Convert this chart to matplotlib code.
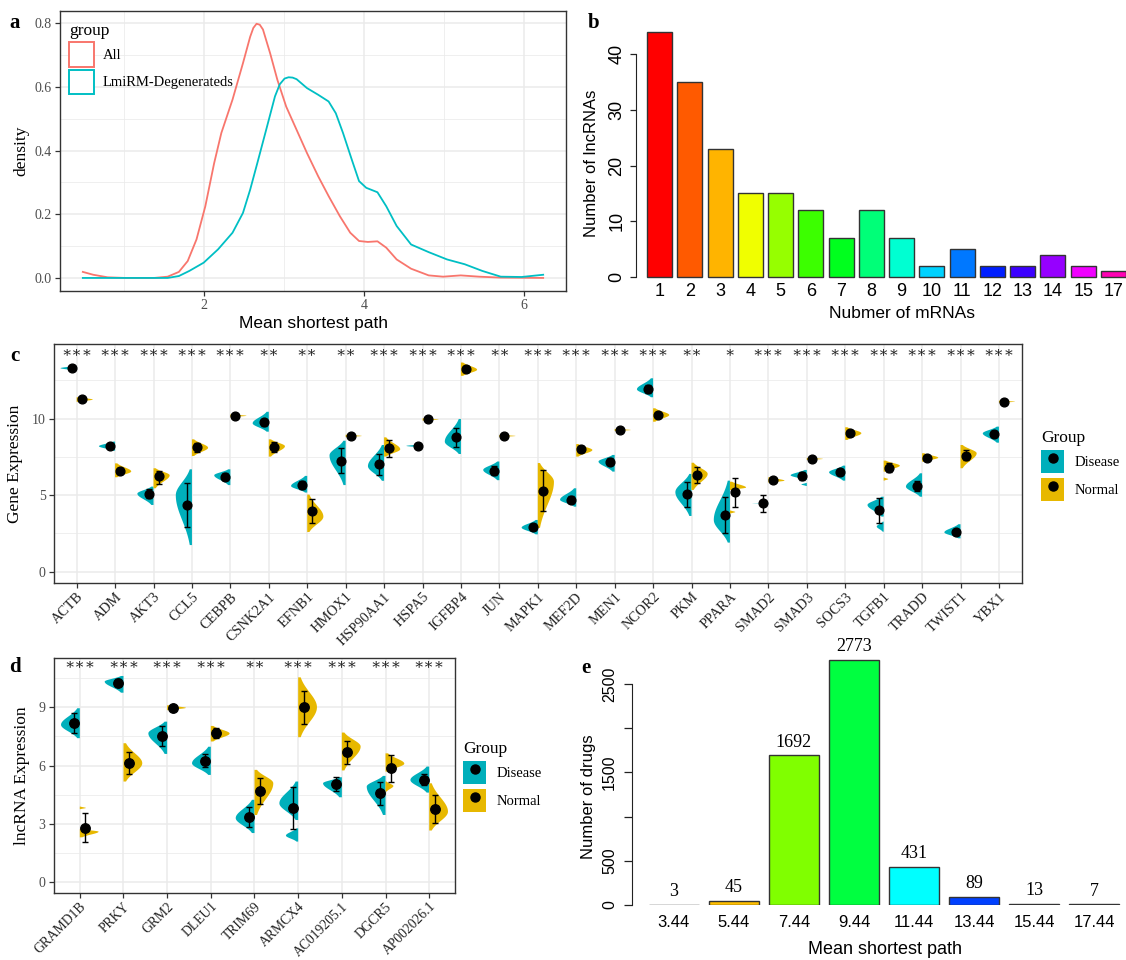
import numpy as np
import matplotlib
matplotlib.use("Agg")
import matplotlib.pyplot as plt
from matplotlib.patches import Patch
from matplotlib.lines import Line2D
from matplotlib.legend_handler import HandlerTuple

plt.rcParams['font.family'] = ['Liberation Serif', 'DejaVu Serif']
SANS = 'Liberation Sans'

# ---------------- panel a: density curves ----------------
all_x = [0.49, 0.62, 0.80, 1.02, 1.38, 1.55, 1.69, 1.80, 1.91, 2.02, 2.13, 2.22, 2.36, 2.49, 2.58, 2.62,
         2.66, 2.70, 2.74, 2.83, 2.92, 3.03, 3.16, 3.29, 3.43, 3.56, 3.70, 3.83, 3.94, 4.05, 4.17, 4.28,
         4.41, 4.59, 4.81, 4.99, 5.21, 5.44, 5.71, 6.24]
all_y = [0.019, 0.010, 0.002, 0.0, 0.0, 0.004, 0.019, 0.053, 0.121, 0.225, 0.360, 0.455, 0.560, 0.674, 0.757, 0.785,
         0.798, 0.795, 0.780, 0.705, 0.622, 0.538, 0.465, 0.392, 0.319, 0.257, 0.194, 0.142, 0.116, 0.113, 0.115, 0.095,
         0.058, 0.029, 0.008, 0.004, 0.008, 0.004, 0.001, 0.0]
deg_x = [0.49, 1.55, 1.69, 1.82, 2.00, 2.18, 2.36, 2.49, 2.58, 2.67, 2.78, 2.89, 2.95, 3.01, 3.06, 3.11, 3.16,
         3.29, 3.43, 3.56, 3.65, 3.74, 3.85, 3.94, 4.03, 4.17, 4.28, 4.41, 4.59, 4.81, 5.04, 5.26,
         5.48, 5.71, 5.97, 6.24]
deg_y = [0.0, 0.0, 0.006, 0.022, 0.048, 0.090, 0.142, 0.204, 0.277, 0.361, 0.465, 0.570, 0.608, 0.626, 0.630, 0.629, 0.624,
         0.596, 0.575, 0.554, 0.517, 0.455, 0.371, 0.304, 0.283, 0.269, 0.225, 0.163, 0.105, 0.081, 0.058, 0.043,
         0.022, 0.004, 0.003, 0.010]
a_groups = ["All", "LmiRM-Degenerateds"]

# ---------------- panel b ----------------
b_labels = ["1", "2", "3", "4", "5", "6", "7", "8", "9", "10", "11", "12", "13", "14", "15", "17"]
b_counts = [44, 35, 23, 15, 15, 12, 7, 12, 7, 2, 5, 2, 2, 4, 2, 1]
b_colors = ["#FF0000", "#FF5A00", "#FFB400", "#F0FF00", "#96FF00", "#3CFF00", "#00FF1E", "#00FF78",
            "#00FFD2", "#00D2FF", "#0078FF", "#001EFF", "#3C00FF", "#9600FF", "#F000FF", "#FF00B4"]

# ---------------- panel c ----------------
c_genes = ["ACTB", "ADM", "AKT3", "CCL5", "CEBPB", "CSNK2A1", "EFNB1", "HMOX1", "HSP90AA1", "HSPA5",
           "IGFBP4", "JUN", "MAPK1", "MEF2D", "MEN1", "NCOR2", "PKM", "PPARA", "SMAD2", "SMAD3",
           "SOCS3", "TGFB1", "TRADD", "TWIST1", "YBX1"]
c_sig = ["***", "***", "***", "***", "***", "**", "**", "**", "***", "***", "***", "**", "***", "***",
         "***", "***", "**", "*", "***", "***", "***", "***", "***", "***", "***"]
# Disease: violin low / peak / high, mean, error low / high
c_dis_lo = [13.15, 7.91, 4.36, 1.74, 5.66, 9.15, 5.17, 5.66, 5.94, 8.12, 7.69, 5.98, 2.44, 4.25, 6.54, 11.40, 3.64, 1.90, 4.45, 6.00, 5.95, 3.60, 4.90, 2.18, 8.43]
c_dis_pk = [13.30, 8.20, 5.10, 5.00, 6.30, 9.70, 5.60, 7.60, 6.90, 8.22, 8.50, 6.65, 2.88, 4.70, 7.20, 11.92, 5.20, 3.38, 4.47, 6.30, 6.50, 4.36, 5.56, 2.57, 9.04]
c_dis_hi = [13.45, 8.50, 5.56, 6.69, 6.69, 10.45, 6.26, 8.56, 8.28, 8.32, 9.98, 7.20, 3.38, 5.45, 7.63, 12.64, 6.39, 5.95, 4.49, 6.65, 6.93, 4.90, 6.43, 3.10, 9.48]
c_dis_mean = [13.29, 8.24, 5.08, 4.38, 6.21, 9.78, 5.65, 7.26, 7.04, 8.22, 8.78, 6.61, 2.94, 4.69, 7.19, 11.94, 5.08, 3.71, 4.47, 6.25, 6.49, 4.03, 5.60, 2.61, 8.98]
c_dis_elo = [13.22, 8.15, 4.80, 2.95, 6.00, 9.50, 5.40, 6.43, 6.32, 8.18, 8.17, 6.35, 2.75, 4.50, 6.95, 11.70, 4.25, 2.50, 3.92, 6.00, 6.30, 3.20, 5.30, 2.45, 8.80]
c_dis_ehi = [13.36, 8.32, 5.40, 5.82, 6.45, 10.00, 5.90, 8.07, 7.69, 8.26, 9.40, 6.90, 3.10, 4.95, 7.40, 12.20, 5.88, 4.90, 5.01, 6.50, 6.70, 4.80, 5.90, 2.75, 9.20]
# Normal
c_nor_lo = [11.10, 6.17, 5.45, 7.56, 10.10, 7.52, 2.59, 8.80, 7.52, 9.88, 12.80, 8.80, 2.86, 7.52, 9.19, 9.80, 5.34, 5.34, 5.82, 7.30, 8.61, 6.54, 7.19, 6.76, 11.04]
c_nor_pk = [11.25, 6.55, 6.30, 8.10, 10.19, 8.20, 3.60, 8.87, 8.00, 9.95, 13.20, 8.87, 5.88, 7.95, 9.26, 10.24, 6.39, 5.50, 5.95, 7.37, 9.05, 6.93, 7.45, 7.74, 11.11]
c_nor_hi = [11.40, 7.08, 6.76, 8.65, 10.28, 8.65, 5.04, 8.95, 8.78, 10.02, 13.67, 8.94, 7.10, 8.34, 9.33, 10.68, 7.12, 5.88, 6.17, 7.44, 9.44, 7.26, 7.74, 8.28, 11.18]
c_nor_mean = [11.29, 6.58, 6.26, 8.13, 10.19, 8.17, 3.99, 8.87, 8.06, 9.95, 13.25, 8.87, 5.29, 8.00, 9.26, 10.24, 6.32, 5.19, 5.99, 7.37, 9.04, 6.76, 7.45, 7.58, 11.11]
c_nor_elo = [11.25, 6.40, 5.70, 7.80, 10.15, 7.80, 3.20, 8.83, 7.52, 9.91, 13.05, 8.83, 3.99, 7.80, 9.22, 10.10, 5.78, 4.25, 5.95, 7.33, 8.85, 6.50, 7.35, 7.30, 11.07]
c_nor_ehi = [11.33, 6.80, 6.60, 8.40, 10.23, 8.50, 4.72, 8.91, 8.61, 9.99, 13.45, 8.91, 6.65, 8.20, 9.30, 10.40, 6.86, 6.10, 6.03, 7.41, 9.20, 7.10, 7.55, 7.95, 11.15]
# small detached density pieces: (gene, group, low, peak, high, half-width)
c_blobs = [("PPARA", "Normal", 3.80, 3.90, 4.00, 0.14), ("SMAD3", "Disease", 5.60, 5.70, 5.80, 0.14),
           ("TGFB1", "Disease", 2.61, 2.95, 3.27, 0.18), ("TGFB1", "Normal", 5.95, 6.05, 6.15, 0.12)]

# ---------------- panel d ----------------
d_genes = ["GRAMD1B", "PRKY", "GRM2", "DLEU1", "TRIM69", "ARMCX4", "AC019205.1", "DGCR5", "AP002026.1"]
d_sig = ["***", "***", "***", "***", "**", "***", "***", "***", "***"]
d_dis_lo = [7.41, 9.75, 6.60, 5.52, 2.53, 3.20, 4.37, 3.46, 4.61]
d_dis_pk = [8.10, 10.32, 7.66, 6.12, 3.30, 4.06, 5.09, 4.92, 5.26]
d_dis_hi = [8.95, 10.61, 8.26, 6.97, 4.24, 5.18, 5.40, 5.47, 5.95]
d_dis_mean = [8.17, 10.27, 7.53, 6.26, 3.37, 3.81, 5.04, 4.58, 5.26]
d_dis_elo = [7.66, 10.10, 7.01, 5.95, 2.86, 2.72, 4.70, 3.95, 5.00]
d_dis_ehi = [8.69, 10.45, 8.04, 6.60, 3.89, 4.92, 5.40, 5.18, 5.55]
d_nor_lo = [2.31, 5.18, 8.85, 7.24, 3.46, 7.46, 5.75, 5.69, 2.66]
d_nor_pk = [2.60, 6.12, 8.97, 7.65, 5.09, 9.00, 6.98, 6.10, 3.63]
d_nor_hi = [2.73, 7.15, 9.10, 8.04, 5.78, 10.54, 7.70, 6.63, 5.09]
d_nor_mean = [2.81, 6.12, 8.95, 7.66, 4.69, 9.00, 6.72, 5.86, 3.77]
d_nor_elo = [2.09, 5.57, 8.88, 7.40, 4.02, 8.14, 6.08, 5.15, 3.04]
d_nor_ehi = [3.55, 6.72, 9.02, 7.95, 5.34, 9.84, 7.29, 6.55, 4.50]
d_blobs = [("GRAMD1B", "Normal", 3.76, 3.82, 3.89, 0.14), ("ARMCX4", "Disease", 2.09, 2.40, 2.77, 0.28),
           ("DGCR5", "Normal", 4.66, 4.95, 5.18, 0.18)]

# ---------------- panel e ----------------
e_labels = ["3.44", "5.44", "7.44", "9.44", "11.44", "13.44", "15.44", "17.44"]
e_counts = [3, 45, 1692, 2773, 431, 89, 13, 7]
e_colors = ["#FF0000", "#FFBF00", "#80FF00", "#00FF40", "#00FFFF", "#0040FF", "#8000FF", "#FF00BF"]

COL_DIS = "#00AFBB"
COL_NOR = "#E7B800"
RED = "#F8766D"
CYAN = "#00BFC4"

FW, FH = 1126, 960
fig = plt.figure(figsize=(FW / 100, FH / 100), dpi=100)


def box(l, t, r, b):
    return [l / FW, 1 - b / FH, (r - l) / FW, (b - t) / FH]


def gg_style(ax, tsize=10):
    for s in ax.spines.values():
        s.set_color('#333333')
        s.set_linewidth(1.0)
    ax.set_axisbelow(True)
    ax.grid(which='major', color='#EBEBEB', linewidth=1.1)
    ax.grid(which='minor', color='#EBEBEB', linewidth=0.55)
    ax.tick_params(which='major', length=3.8, width=0.9, color='#333333',
                   labelcolor='#4D4D4D', labelsize=tsize, pad=2)
    ax.tick_params(which='minor', length=0)


def panel_label(x, y, s):
    fig.text(x / FW, 1 - y / FH, s, fontsize=15, fontweight='bold', ha='center', va='center')


# ================= panel a =================
ax = fig.add_axes(box(60, 10.7, 566, 291))
gg_style(ax)
ax.plot(all_x, all_y, color=RED, lw=1.3)
ax.plot(deg_x, deg_y, color=CYAN, lw=1.3)
ax.set_xlim(0.205, 6.525)
ax.set_ylim(-0.041, 0.839)
ax.set_xticks([2, 4, 6])
ax.set_xticks([1, 3, 5], minor=True)
ax.set_yticks([0, 0.2, 0.4, 0.6, 0.8])
ax.set_yticklabels(["0.0", "0.2", "0.4", "0.6", "0.8"])
ax.set_yticks([0.1, 0.3, 0.5, 0.7], minor=True)
ax.set_xlabel("Mean shortest path", family=SANS, fontsize=12.5, labelpad=3)
ax.set_ylabel("density", fontsize=12.5, labelpad=4)
handles = [Patch(facecolor='white', edgecolor=RED, linewidth=1.4),
           Patch(facecolor='white', edgecolor=CYAN, linewidth=1.4)]
leg = ax.legend(handles, a_groups, title="group", loc='upper left', bbox_to_anchor=(0.012, 0.965),
                frameon=False, fontsize=10.5, title_fontsize=12.5, handlelength=1.7, handleheight=2.2,
                labelspacing=0.2, handletextpad=0.6, borderaxespad=0, borderpad=0.2)
leg._legend_box.align = "left"
panel_label(15, 23, "a")

# ================= panel b =================
axb = fig.add_axes(box(636, 20.6, 1126, 277))
xb = 0.7 + 1.2 * np.arange(len(b_counts))
axb.bar(xb, b_counts, width=1.0, color=b_colors, edgecolor='#333333', linewidth=1.0, clip_on=False)
axb.set_xlim(-0.237, 19.2)
axb.set_ylim(0, 46)
for s in ['top', 'right', 'bottom']:
    axb.spines[s].set_visible(False)
axb.spines['left'].set_bounds(0, 40)
axb.spines['left'].set_color('#222222')
axb.set_yticks([0, 10, 20, 30, 40])
axb.set_yticklabels(["0", "10", "20", "30", "40"], rotation=90, va='center', family=SANS)
axb.set_xticks(xb)
axb.set_xticklabels(b_labels, family=SANS)
axb.tick_params(axis='y', length=6 * 0.72, width=0.9, color='#222222', labelsize=13, pad=3.5)
axb.tick_params(axis='x', length=0, labelsize=13, pad=4.5)
fig.text(592 / FW, 1 - 163 / FH, "Number of lncRNAs", family=SANS, fontsize=12, rotation=90,
         ha='center', va='center')
fig.text(902 / FW, 1 - 314 / FH, "Nubmer of mRNAs", family=SANS, fontsize=12.5, ha='center', va='center')
panel_label(594, 23, "b")


# ================= violin helpers =================
def half_violin(ax, x0, side, lo, pk, hi, W, color):
    ys = np.linspace(lo, hi, 80)
    sl = max(pk - lo, 1e-3) / 2.0
    sh = max(hi - pk, 1e-3) / 2.0
    s = np.where(ys < pk, sl, sh)
    w = W * np.exp(-0.5 * ((ys - pk) / s) ** 2)
    xs = np.concatenate([[x0], x0 + side * w, [x0]])
    yy = np.concatenate([[lo], ys, [hi]])
    ax.fill(xs, yy, color=color, lw=0, zorder=2)


def violin_panel(ax, genes, sig, dis, nor, blobs, W, dodge, star_y, ms):
    pos = np.arange(1, len(genes) + 1)
    for i, p in enumerate(pos):
        half_violin(ax, p, -1, dis[0][i], dis[1][i], dis[2][i], W, COL_DIS)
        half_violin(ax, p, +1, nor[0][i], nor[1][i], nor[2][i], W, COL_NOR)
    for g, grp, lo, pk, hi, w in blobs:
        p = genes.index(g) + 1
        half_violin(ax, p, -1 if grp == "Disease" else 1, lo, pk, hi, w,
                    COL_DIS if grp == "Disease" else COL_NOR)
    for vals, off in ((dis, -dodge), (nor, dodge)):
        m = np.array(vals[3])
        ax.errorbar(pos + off, m, yerr=[m - np.array(vals[4]), np.array(vals[5]) - m], fmt='o',
                    color='black', ms=ms, elinewidth=1.0, capsize=2.0, capthick=1.0, zorder=4)
    for p, s in zip(pos, sig):
        ax.text(p, star_y, s.replace("*", "\u2217"), ha='center', va='center', fontsize=11, color='#222222')
    ax.set_xticks(pos)
    ax.set_xticklabels(genes, rotation=45, ha='right', rotation_mode='anchor')
    ax.set_xlim(0.4, len(genes) + 0.6)


def group_legend(x, y):
    hd = [(Patch(facecolor=COL_DIS), Line2D([], [], ls='', marker='o', color='black', ms=6.5)),
          (Patch(facecolor=COL_NOR), Line2D([], [], ls='', marker='o', color='black', ms=6.5))]
    lg = fig.legend(hd, ["Disease", "Normal"], title="Group", loc='upper left',
                    bbox_to_anchor=(x / FW, 1 - y / FH), frameon=False, fontsize=10.5, title_fontsize=12.5,
                    handlelength=1.6, handleheight=2.05, labelspacing=0.3, handletextpad=0.7,
                    borderaxespad=0, borderpad=0, handler_map={tuple: HandlerTuple(ndivide=1)})
    lg._legend_box.align = "left"


# ================= panel c =================
axc = fig.add_axes(box(53.6, 344, 1022, 583))
gg_style(axc)
violin_panel(axc, c_genes, c_sig,
             (c_dis_lo, c_dis_pk, c_dis_hi, c_dis_mean, c_dis_elo, c_dis_ehi),
             (c_nor_lo, c_nor_pk, c_nor_hi, c_nor_mean, c_nor_elo, c_nor_ehi),
             c_blobs, 0.42, 0.13, 14.3, 6.3)
axc.set_ylim(-0.74, 14.88)
axc.set_yticks([0, 5, 10])
axc.set_yticks([2.5, 7.5, 12.5], minor=True)
axc.tick_params(axis='x', labelsize=10.3, labelcolor='#222222', pad=1.5)
axc.set_ylabel("Gene Expression", fontsize=12.5, labelpad=6)
group_legend(1041, 430)
panel_label(15, 356, "c")

# ================= panel d =================
axd = fig.add_axes(box(53.6, 657.7, 455.4, 893.3))
gg_style(axd)
violin_panel(axd, d_genes, d_sig,
             (d_dis_lo, d_dis_pk, d_dis_hi, d_dis_mean, d_dis_elo, d_dis_ehi),
             (d_nor_lo, d_nor_pk, d_nor_hi, d_nor_mean, d_nor_elo, d_nor_ehi),
             d_blobs, 0.43, 0.125, 11.18, 6.8)
axd.set_ylim(-0.57, 11.55)
axd.set_yticks([0, 3, 6, 9])
axd.set_yticks([1.5, 4.5, 7.5, 10.5], minor=True)
axd.tick_params(axis='x', labelsize=9.8, labelcolor='#222222', pad=1)
axd.set_ylabel("lncRNA Expression", fontsize=12.5, labelpad=6)
group_legend(463, 741)
panel_label(15, 667, "d")

# ================= panel e =================
axe = fig.add_axes(box(632, 644, 1126, 905))
xe = 0.7 + 1.2 * np.arange(len(e_counts))
axe.bar(xe, e_counts, width=1.0, color=e_colors, edgecolor='#333333', linewidth=1.0)
for xx, v in zip(xe, e_counts):
    axe.text(xx, v + 150, str(v), ha='center', va='center', fontsize=13, clip_on=False)
axe.set_xlim(-0.13, 9.73)
axe.set_ylim(0, 2950)
for s in ['top', 'right', 'bottom']:
    axe.spines[s].set_visible(False)
axe.spines['left'].set_bounds(0, 2500)
axe.spines['left'].set_color('#222222')
axe.set_yticks([0, 500, 1000, 1500, 2000, 2500])
axe.set_yticklabels(["0", "500", "", "1500", "", "2500"], rotation=90, va='center', family=SANS)
axe.set_xticks(xe)
axe.set_xticklabels(e_labels, family=SANS)
axe.tick_params(axis='y', length=8 * 0.72, width=0.9, color='#222222', labelsize=11.5, pad=5)
axe.tick_params(axis='x', length=0, labelsize=12, pad=7)
fig.text(589 / FW, 1 - 797 / FH, "Number of drugs", family=SANS, fontsize=12, rotation=90,
         ha='center', va='center')
fig.text(885 / FW, 1 - 950 / FH, "Mean shortest path", family=SANS, fontsize=13, ha='center', va='center')
panel_label(586, 668, "e")

fig.savefig("out.png", dpi=100)
